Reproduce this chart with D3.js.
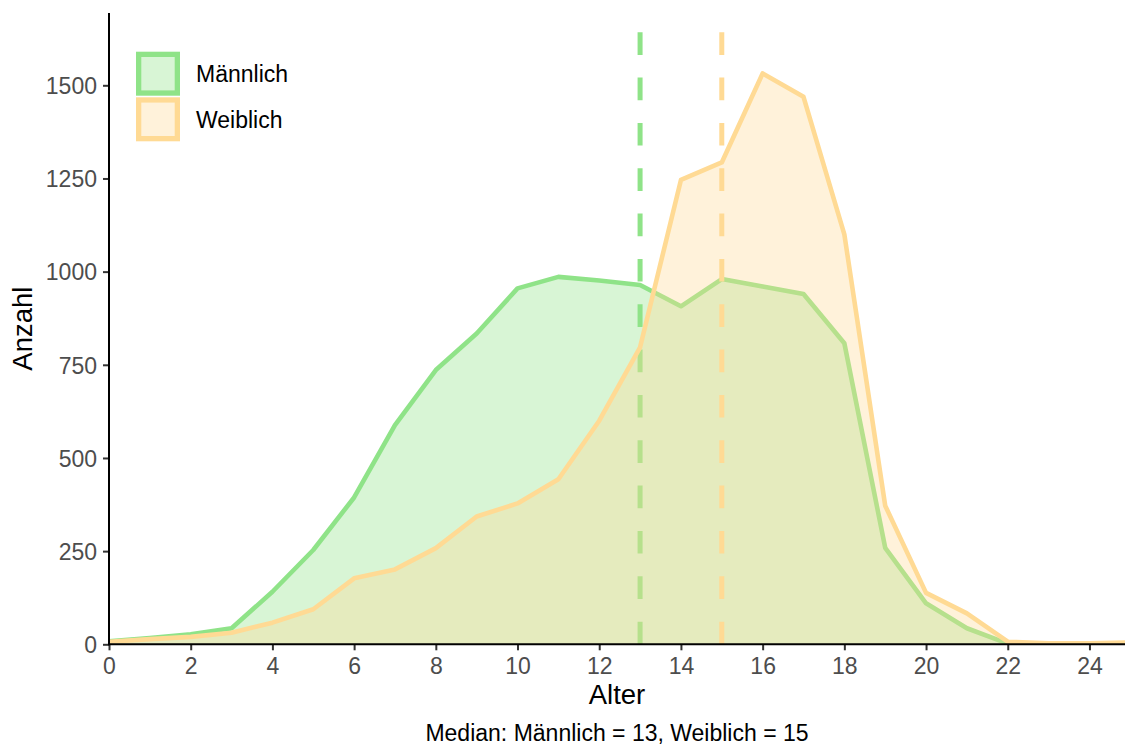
<!DOCTYPE html>
<html>
<head>
<meta charset="utf-8">
<script src="https://cdn.jsdelivr.net/npm/d3@7"></script>
<style>
  html, body { margin: 0; padding: 0; background: #fff; }
  svg { display: block; font-family: "Liberation Sans", Arial, sans-serif; }
</style>
</head>
<body>
<svg id="chart" width="1125" height="745"></svg>
<script>
// ---- Data ----
const ages = [0,1,2,3,4,5,6,7,8,9,10,11,12,13,14,15,16,17,18,19,20,21,22,23,24,25];
const maleCounts = [8,17,27,43,141,253,394,588,736,834,955,986,976,964,907,980,960,940,808,259,110,43,2,1,1,2];
const femaleCounts = [7,14,20,31,58,94,177,201,258,343,378,443,600,797,1246,1293,1532,1469,1100,372,138,83,7,3,3,5];
const seriesNames = ["Männlich", "Weiblich"];
const seriesColors = ["#8FE388", "#FFDA94"];
const medians = [13, 15];
const xTicks = [0,2,4,6,8,10,12,14,16,18,20,22,24];
const yTicks = [0,250,500,750,1000,1250,1500];
const xLabel = "Alter";
const yLabel = "Anzahl";
const caption = "Median: Männlich = 13, Weiblich = 15";

// ---- Layout ----
const pLeft = 109, pRight = 1125, pTop = 13, pBottom = 644.3;
const svg = d3.select("#chart");
const x = d3.scaleLinear().domain([0, 24.87]).range([pLeft, pRight]);
const y = d3.scaleLinear().domain([0, 1694]).range([pBottom, pTop]);

svg.append("defs").append("clipPath").attr("id", "panel")
  .append("rect").attr("x", pLeft).attr("y", pTop).attr("width", pRight - pLeft).attr("height", pBottom - pTop);

const g = svg.append("g").attr("clip-path", "url(#panel)");
const fillOpacity = 0.35;
const series = [maleCounts, femaleCounts];

series.forEach((vals, i) => {
  const pts = ages.map((a, k) => [a, vals[k]]);
  const area = d3.area().x(d => x(d[0])).y0(y(0)).y1(d => y(d[1]));
  const line = d3.line().x(d => x(d[0])).y(d => y(d[1]));
  g.append("path").attr("d", area(pts)).attr("fill", seriesColors[i]).attr("fill-opacity", fillOpacity);
  g.append("path").attr("d", line(pts)).attr("fill", "none").attr("stroke", seriesColors[i])
    .attr("stroke-width", 4.6).attr("stroke-linejoin", "round");
  g.append("line")
    .attr("x1", x(medians[i])).attr("x2", x(medians[i]))
    .attr("y1", pBottom).attr("y2", pTop)
    .attr("stroke", seriesColors[i]).attr("stroke-width", 5)
    .attr("stroke-dasharray", "22.67 22.67");
});

// ---- Axes ----
const xAxis = d3.axisBottom(x).tickValues(xTicks).tickSize(6).tickPadding(6).tickFormat(d3.format("d"));
const yAxis = d3.axisLeft(y).tickValues(yTicks).tickSize(6).tickPadding(6).tickFormat(d3.format("d"));

const gx = svg.append("g").attr("transform", `translate(0,${pBottom})`).call(xAxis);
const gy = svg.append("g").attr("transform", `translate(${pLeft},0)`).call(yAxis);

[gx, gy].forEach(ax => {
  ax.select(".domain").remove();
  ax.selectAll(".tick line").attr("stroke", "#333333").attr("stroke-width", 2);
  ax.selectAll(".tick text").attr("fill", "#4D4D4D").attr("font-size", 23)
    .attr("font-family", "'Liberation Sans', Arial, sans-serif");
});
gx.selectAll(".tick text").attr("dy", "0.71em").attr("y", 13);
gy.selectAll(".tick text").attr("dy", "0.36em").attr("x", -12);

// axis lines
svg.append("line").attr("x1", pLeft).attr("x2", pLeft).attr("y1", pTop).attr("y2", pBottom + 1)
  .attr("stroke", "#000").attr("stroke-width", 2);
svg.append("line").attr("x1", pLeft - 1).attr("x2", pRight).attr("y1", pBottom).attr("y2", pBottom)
  .attr("stroke", "#000").attr("stroke-width", 2);

// ---- Titles ----
const cx = (pLeft + pRight) / 2;
svg.append("text").attr("x", cx).attr("y", 704).attr("text-anchor", "middle")
  .attr("font-size", 27.5).attr("fill", "#000").text(xLabel);
svg.append("text").attr("transform", `translate(32,${(pTop + pBottom) / 2}) rotate(-90)`)
  .attr("text-anchor", "middle").attr("font-size", 27.5).attr("fill", "#000").text(yLabel);
svg.append("text").attr("x", cx).attr("y", 741).attr("text-anchor", "middle")
  .attr("font-size", 23).attr("fill", "#000").text(caption);

// ---- Legend ----
const legend = svg.append("g");
const keyY = [51.7, 97.3];
seriesNames.forEach((name, i) => {
  legend.append("rect").attr("x", 136 + 2.65).attr("y", keyY[i] + 2.65)
    .attr("width", 44 - 5.3).attr("height", 44 - 5.3)
    .attr("fill", seriesColors[i]).attr("fill-opacity", fillOpacity)
    .attr("stroke", seriesColors[i]).attr("stroke-width", 5.3);
  legend.append("text").attr("x", 196).attr("y", keyY[i] + 30.5)
    .attr("font-size", 23).attr("fill", "#000").text(name);
});
</script>
</body>
</html>
